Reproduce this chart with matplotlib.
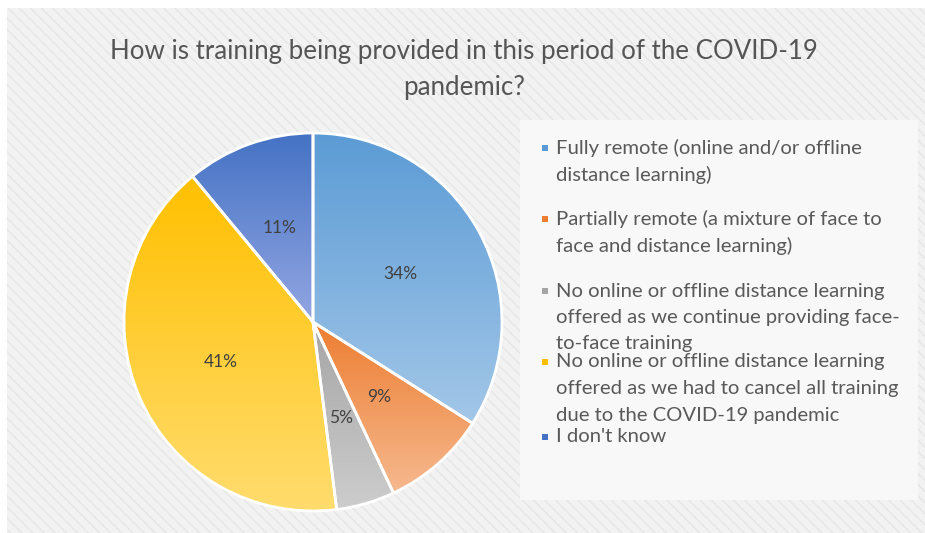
import matplotlib
matplotlib.use("Agg")
import matplotlib.pyplot as plt
import numpy as np
from matplotlib.colors import LinearSegmentedColormap
from matplotlib.patches import Rectangle

# ---- data ----
categories = [
    "Fully remote (online and/or offline\ndistance learning)",
    "Partially remote (a mixture of face to\nface and distance learning)",
    "No online or offline distance learning\noffered as we continue providing face-\nto-face training",
    "No online or offline distance learning\noffered as we had to cancel all training\ndue to the COVID-19 pandemic",
    "I don't know",
]
values = [34, 9, 5, 41, 11]
title = "How is training being provided in this period of the COVID-19\npandemic?"

# gradient colours (top, bottom) per slice
grad_top = ["#5b9bd5", "#ed7d31", "#a5a5a5", "#ffc000", "#4472c4"]
grad_bot = ["#a3c7e8", "#f6b98f", "#cdcdcd", "#ffdc6e", "#93a6e2"]
key_colors = ["#5b9bd5", "#ed7d31", "#a5a5a5", "#ffc000", "#4472c4"]

W, H = 925, 533
fig = plt.figure(figsize=(W / 100, H / 100), dpi=100)
fig.patch.set_facecolor("white")

# background with diagonal pattern
bg = fig.add_axes([0, 0, 1, 1], zorder=0)
bg.set_xlim(0, W)
bg.set_ylim(H, 0)
bg.axis("off")
bg.add_patch(Rectangle((7, 8), W - 7, H - 8, facecolor="#f2f2f2", edgecolor="none"))
bg.add_patch(Rectangle((7, 8), W - 7, H - 8, facecolor="none", edgecolor="#e6e6e6",
                       hatch="\\\\\\", linewidth=0))
# legend area
bg.add_patch(Rectangle((520, 120), 398, 380, facecolor="#f8f8f8", edgecolor="none"))

# pie axes
cx, cy, r = 313, 322, 189
ax = fig.add_axes([(cx - r) / W, (H - cy - r) / H, 2 * r / W, 2 * r / H], zorder=1)
wedges, texts, autotexts = ax.pie(
    values, startangle=90, counterclock=False, radius=1,
    autopct=lambda p: f"{p:.0f}%", pctdistance=0.53,
    wedgeprops=dict(edgecolor="white", linewidth=2),
    textprops=dict(color="#404040", fontsize=12.5, family=["Lato", "DejaVu Sans"]),
)
ax.set_aspect("auto")
ax.axis("off")

for w, ct, cb in zip(wedges, grad_top, grad_bot):
    ext = w.get_path().get_extents()
    cmap = LinearSegmentedColormap.from_list("g", [cb, ct])
    grad = np.linspace(0, 1, 256).reshape(-1, 1)
    w.set_facecolor("none")
    im = ax.imshow(grad, cmap=cmap, origin="lower", aspect="auto",
                   extent=(ext.x0, ext.x1, ext.y0, ext.y1), zorder=0.5)
    im.set_clip_path(w)
    w.set_zorder(1)
for t in autotexts:
    t.set_zorder(3)
ax.set_xlim(-1.0, 1.0)
ax.set_ylim(-1.0, 1.0)

# title
fig.text(464 / W, 1 - 69 / H, title, ha="center", va="center", fontsize=18.6,
         color="#555555", family=["Lato", "DejaVu Sans"], linespacing=1.55)

# legend (manual, Excel-like tight layout)
entry_y = [148, 219, 291, 362, 437]
line_h = 26.5
for lab, col, y0 in zip(categories, key_colors, entry_y):
    bg.add_patch(Rectangle((541.5, y0 - 3.5), 6, 6, facecolor=col, edgecolor="none"))
    for i, line in enumerate(lab.split("\n")):
        bg.text(556, y0 + i * line_h, line, ha="left", va="center", fontsize=14.6,
                color="#595959", family=["Lato", "DejaVu Sans"])

fig.savefig("out.png", dpi=100, facecolor="white")
